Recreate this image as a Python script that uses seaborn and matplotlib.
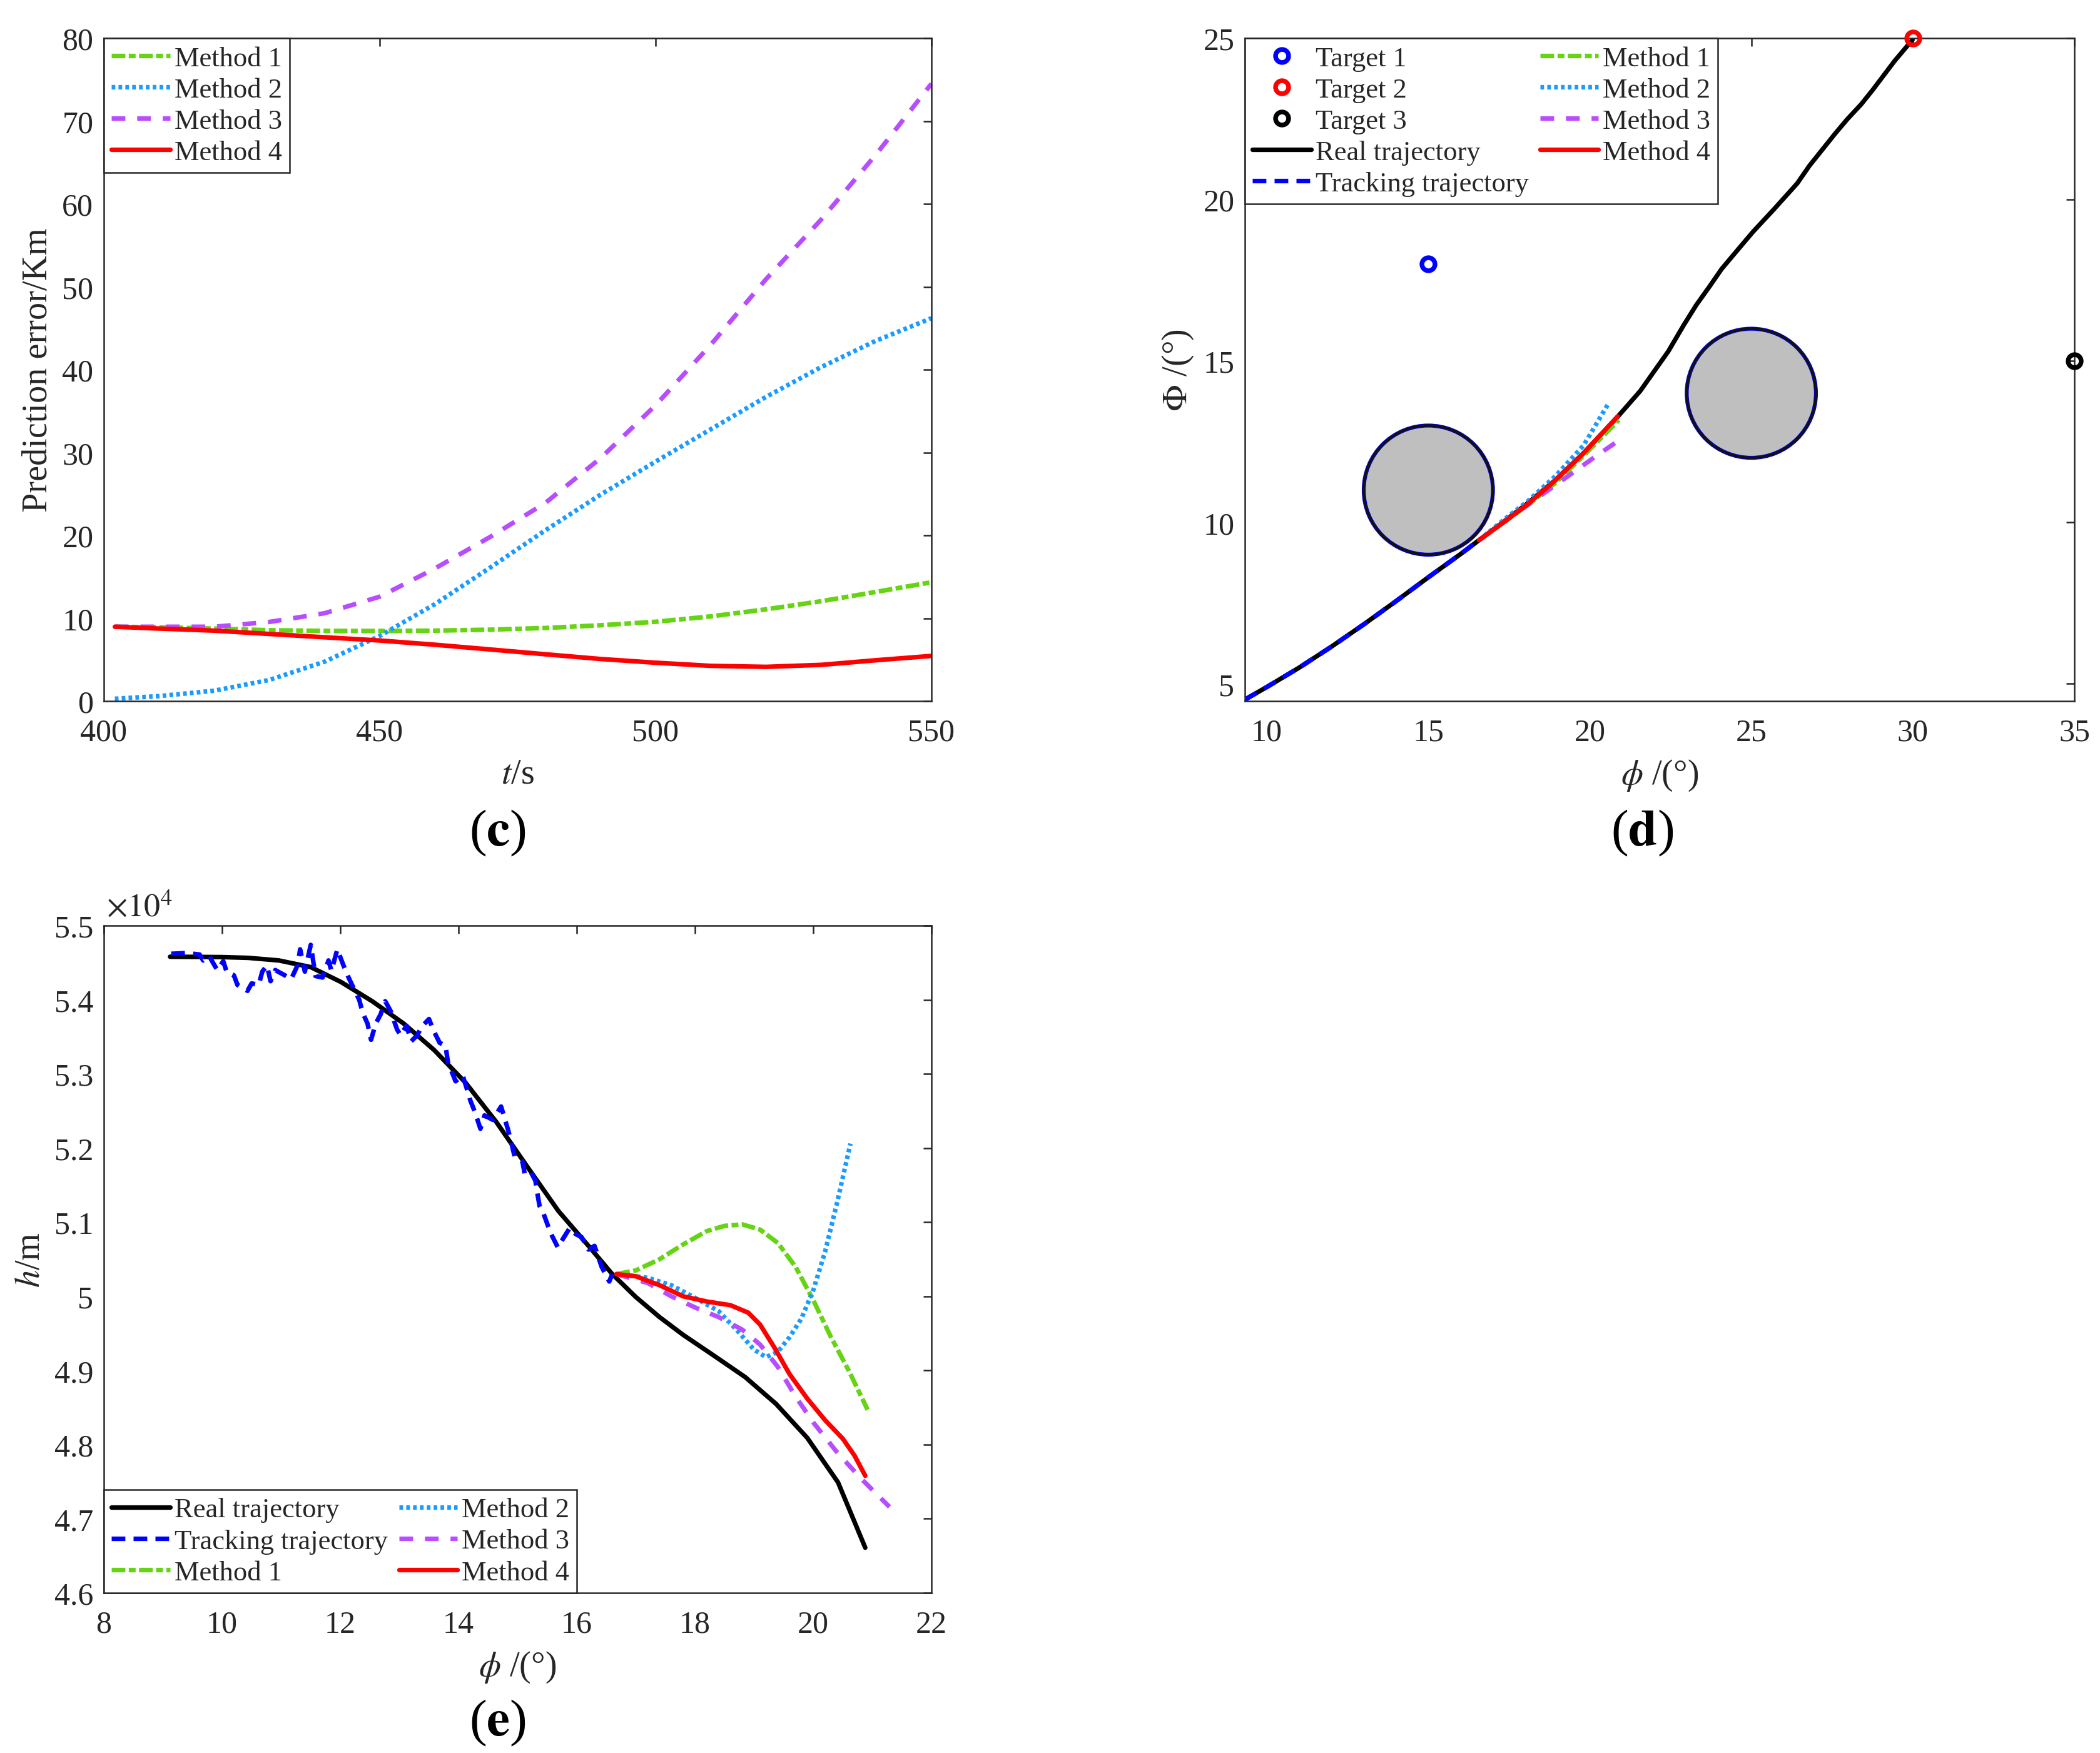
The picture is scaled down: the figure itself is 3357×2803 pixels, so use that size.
import matplotlib
matplotlib.use("Agg")
import matplotlib.pyplot as plt
from matplotlib.patches import Circle
from matplotlib.ticker import FuncFormatter
import numpy as np
import seaborn as sns

# ---------------- data ----------------
# (c) prediction error vs time
t_c = [402, 410, 420, 430, 440, 450, 460, 470, 480, 490, 500, 510, 520, 530, 540, 550]
err_m1 = [8.97, 8.90, 8.75, 8.55, 8.47, 8.46, 8.50, 8.62, 8.82, 9.15, 9.57, 10.22, 11.07, 12.05, 13.18, 14.34]
err_m2 = [0.28, 0.60, 1.25, 2.55, 4.75, 7.86, 11.7, 16.1, 20.6, 24.9, 28.9, 32.8, 36.7, 40.3, 43.5, 46.2]
err_m3 = [8.97, 8.97, 8.97, 9.55, 10.6, 12.6, 16.0, 19.8, 23.9, 29.3, 35.7, 43.0, 50.9, 58.1, 66.0, 74.5]
err_m4 = [8.97, 8.75, 8.50, 8.10, 7.70, 7.31, 6.80, 6.23, 5.65, 5.08, 4.63, 4.25, 4.13, 4.37, 4.93, 5.45]

# (d) ground track, phi vs Phi
real_d_x = [9.32, 10, 11, 12, 13, 14, 15, 16, 16.57, 17.2, 18.06, 18.93, 19.81, 20.86, 21.56, 22.43, 22.9,
            23.3, 23.7, 24.08, 24.5, 25.05, 25.7, 26.42, 26.8, 27.2, 27.6, 27.98, 28.4, 28.76, 29.1, 29.44, 29.99]
real_d_y = [4.51, 4.90, 5.50, 6.15, 6.84, 7.56, 8.30, 9.02, 9.45, 9.92, 10.58, 11.31, 12.15, 13.27, 14.07, 15.30,
            16.10, 16.74, 17.30, 17.85, 18.35, 19.00, 19.70, 20.50, 21.05, 21.55, 22.05, 22.50, 22.95, 23.40,
            23.85, 24.30, 24.95]
track_d_x = [9.32, 10, 11, 12, 13, 14, 15, 16, 16.57]
track_d_y = [4.51, 4.90, 5.50, 6.15, 6.84, 7.56, 8.30, 9.02, 9.45]
m1_d_x = [16.57, 17.2, 18.06, 18.93, 19.81, 20.9]
m1_d_y = [9.45, 9.90, 10.52, 11.22, 12.07, 13.17]
m2_d_x = [16.57, 17.36, 18.06, 18.93, 19.81, 20.55]
m2_d_y = [9.45, 10.10, 10.64, 11.43, 12.39, 13.64]
m3_d_x = [16.57, 17.36, 18.06, 18.76, 19.46, 20.16, 20.94]
m3_d_y = [9.45, 10.03, 10.53, 11.03, 11.53, 12.03, 12.57]
m4_d_x = [16.57, 17.19, 18.06, 18.93, 19.81, 20.86]
m4_d_y = [9.45, 9.90, 10.55, 11.30, 12.15, 13.28]
target_x = [15, 30, 35]
target_y = [18, 25, 15]
target_names = ["Target 1", "Target 2", "Target 3"]
obstacle_x = [15, 25]
obstacle_y = [11, 14]
obstacle_r = [2, 2]

# (e) altitude vs phi (m)
real_e_x = [9.12, 10.0, 10.44, 10.96, 11.5, 12.01, 12.54, 13.07, 13.59, 14.12, 14.64, 15.17, 15.69, 16.22, 16.6,
            17.0, 17.4, 17.8, 18.32, 18.85, 19.37, 19.9, 20.42, 20.88]
real_e_y = [54580, 54575, 54565, 54530, 54440, 54240, 53980, 53680, 53320, 52880, 52350, 51740, 51150, 50660, 50300,
            49990, 49720, 49480, 49200, 48910, 48550, 48090, 47490, 46610]
track_e_x = [9.14, 9.40, 9.62, 9.68, 9.78, 9.86, 9.92, 10.02, 10.08, 10.20, 10.26, 10.43, 10.50, 10.62, 10.68, 10.76,
             10.82, 10.90, 11.06, 11.17, 11.28, 11.32, 11.40, 11.50, 11.58, 11.70, 11.80, 11.85, 11.95, 12.05, 12.14,
             12.24, 12.32, 12.38, 12.46, 12.52, 12.60, 12.68, 12.76, 12.85, 12.96, 13.02, 13.12, 13.20, 13.30, 13.38,
             13.50, 13.58, 13.68, 13.78, 13.82, 13.90, 13.95, 14.07, 14.14, 14.20, 14.28, 14.37, 14.44, 14.58, 14.72,
             14.84, 14.90, 14.95, 15.08, 15.12, 15.22, 15.30, 15.34, 15.37, 15.44, 15.50, 15.56, 15.68, 15.77, 15.88,
             15.98, 16.08, 16.20, 16.30, 16.42, 16.55, 16.60]
track_e_y = [54620, 54630, 54610, 54530, 54590, 54480, 54400, 54520, 54370, 54330, 54200, 54120, 54220, 54200, 54380,
             54460, 54250, 54400, 54330, 54280, 54470, 54680, 54380, 54740, 54320, 54300, 54530, 54390, 54680, 54470,
             54300, 54130, 54000, 53820, 53680, 53460, 53680, 53800, 53980, 53850, 53600, 53520, 53650, 53440, 53520,
             53640, 53740, 53580, 53420, 53380, 53160, 53000, 52900, 52980, 52800, 52640, 52480, 52260, 52440, 52380,
             52560, 52240, 52050, 51880, 51820, 51650, 51680, 51560, 51360, 51220, 51110, 50980, 50850, 50660, 50780,
             50920, 50840, 50800, 50630, 50680, 50400, 50200, 50300]
m1_e_x = [16.67, 17.0, 17.4, 17.8, 18.2, 18.5, 18.8, 19.1, 19.4, 19.7, 20.0, 20.3, 20.6, 20.92]
m1_e_y = [50300, 50350, 50500, 50700, 50880, 50950, 50970, 50900, 50720, 50400, 49950, 49450, 49000, 48470]
m2_e_x = [16.67, 17.2, 17.6, 18.0, 18.4, 18.7, 19.0, 19.2, 19.4, 19.6, 19.8, 20.0, 20.2, 20.4, 20.63]
m2_e_y = [50300, 50250, 50150, 49980, 49800, 49550, 49280, 49180, 49250, 49450, 49700, 50080, 50600, 51250, 52060]
m3_e_x = [16.67, 17.2, 17.6, 18.0, 18.4, 18.8, 19.1, 19.4, 19.7, 20.0, 20.4, 20.8, 21.29]
m3_e_y = [50300, 50180, 50000, 49850, 49720, 49550, 49350, 49050, 48650, 48300, 47900, 47550, 47160]
m4_e_x = [16.67, 17.0, 17.4, 17.8, 18.2, 18.6, 18.9, 19.1, 19.35, 19.6, 19.9, 20.2, 20.5, 20.7, 20.88]
m4_e_y = [50300, 50270, 50150, 50000, 49930, 49880, 49780, 49620, 49300, 48950, 48620, 48330, 48080, 47850, 47580]

# ---------------- style ----------------
sns.set_theme(style="white")
plt.rcParams["font.family"] = ["Liberation Serif", "DejaVu Serif"]
plt.rcParams["mathtext.fontset"] = "stix"
plt.rcParams["axes.edgecolor"] = "#262626"
plt.rcParams["axes.linewidth"] = 0.6
plt.rcParams["text.color"] = "#262626"
plt.rcParams["axes.labelcolor"] = "#262626"
plt.rcParams["xtick.color"] = "#262626"
plt.rcParams["ytick.color"] = "#262626"

GREEN = "#66d414"
LBLUE = "#1a9cff"
PURPLE = "#b84dff"
RED = "#ff0000"
LW = 1.75
LS_M1 = (0, (3.0, 0.75, 1.5, 0.75))
LS_M2 = (0, (0.8, 0.7))
LS_M3 = (0, (3.0, 2.6))
LS_TR = (0, (3.0, 1.8))
FS = 12
LAB_FS = 13.5
LEG_FS = 10.7

fig = plt.figure(figsize=(3357 / 300, 2804 / 300), dpi=300)
ax_c = fig.add_axes([166 / 3357, 1 - 1122 / 2804, 1323 / 3357, 1060 / 2804])
ax_d = fig.add_axes([1990 / 3357, 1 - 1122 / 2804, 1326 / 3357, 1060 / 2804])
ax_e = fig.add_axes([166 / 3357, 1 - 2548 / 2804, 1323 / 3357, 1067 / 2804])


def line(ax, x, y, color, ls, label):
    sns.lineplot(x=x, y=y, ax=ax, color=color, lw=LW, linestyle=ls, label=label,
                 sort=False, estimator=None)
    return ax.lines[-1]


def style_axes(ax):
    ax.tick_params(direction="in", top=True, right=True, length=3.2, width=0.6,
                   labelsize=FS)
    ax.tick_params(axis="x", pad=6.5)
    ax.tick_params(axis="y", pad=4)
    for s in ax.spines.values():
        s.set_visible(True)
        s.set_linewidth(0.6)


def make_legend(ax, handles, loc, ncol=1):
    leg = ax.legend(handles=handles, labels=[h.get_label() for h in handles], loc=loc,
                    ncol=ncol, fontsize=LEG_FS, borderaxespad=0, handlelength=2.1,
                    handletextpad=0.15, labelspacing=0.22, borderpad=0.28,
                    columnspacing=0.4, frameon=True, fancybox=False, framealpha=1,
                    edgecolor="#262626")
    leg.get_frame().set_linewidth(0.6)
    return leg


# ---------------- (c) ----------------
h1 = line(ax_c, t_c, err_m1, GREEN, LS_M1, "Method 1")
h2 = line(ax_c, t_c, err_m2, LBLUE, LS_M2, "Method 2")
h3 = line(ax_c, t_c, err_m3, PURPLE, LS_M3, "Method 3")
h4 = line(ax_c, t_c, err_m4, RED, "-", "Method 4")
ax_c.set_xlim(400, 550)
ax_c.set_ylim(0, 80)
ax_c.set_xticks([400, 450, 500, 550])
ax_c.set_yticks(np.arange(0, 81, 10))
style_axes(ax_c)
ax_c.set_xlabel("$t$/s", fontsize=LAB_FS, labelpad=4)
ax_c.set_ylabel("Prediction error/Km", fontsize=LAB_FS, labelpad=3)
make_legend(ax_c, [h1, h2, h3, h4], "upper left")

# ---------------- (d) ----------------
for cx, cy, r in zip(obstacle_x, obstacle_y, obstacle_r):
    ax_d.add_patch(Circle((cx, cy), r, facecolor="#bfbfbf", edgecolor="#0000ee", lw=1.5, zorder=1))
    ax_d.add_patch(Circle((cx, cy), r, facecolor="none", edgecolor="#111111", lw=1.0, zorder=1.1))
tgt_handles = []
for tx, ty, name, c in zip(target_x, target_y, target_names, ["#0000ff", "#ff0000", "#000000"]):
    th, = ax_d.plot([tx], [ty], ls="none", marker="o", ms=5, mfc="none", mec=c, mew=1.8,
                    label=name, clip_on=False, zorder=5)
    tgt_handles.append(th)
hr = line(ax_d, real_d_x, real_d_y, "black", "-", "Real trajectory")
ht = line(ax_d, track_d_x, track_d_y, "#0000ff", LS_TR, "Tracking trajectory")
d1 = line(ax_d, m1_d_x, m1_d_y, GREEN, LS_M1, "Method 1")
d2 = line(ax_d, m2_d_x, m2_d_y, LBLUE, LS_M2, "Method 2")
d3 = line(ax_d, m3_d_x, m3_d_y, PURPLE, LS_M3, "Method 3")
d4 = line(ax_d, m4_d_x, m4_d_y, RED, "-", "Method 4")
ax_d.set_xlim(9.32, 35)
ax_d.set_ylim(4.465, 25)
ax_d.set_xticks(np.arange(10, 36, 5))
ax_d.set_yticks(np.arange(5, 26, 5))
style_axes(ax_d)
ax_d.set_xlabel(r"$\phi$ /(°)", fontsize=LAB_FS, labelpad=4)
ax_d.set_ylabel(r"$\Phi$ /(°)", fontsize=LAB_FS, labelpad=3)
make_legend(ax_d, tgt_handles + [hr, ht, d1, d2, d3, d4], "upper left", ncol=2)

# ---------------- (e) ----------------
er = line(ax_e, real_e_x, real_e_y, "black", "-", "Real trajectory")
et = line(ax_e, track_e_x, track_e_y, "#0000ff", LS_TR, "Tracking trajectory")
e1 = line(ax_e, m1_e_x, m1_e_y, GREEN, LS_M1, "Method 1")
e2 = line(ax_e, m2_e_x, m2_e_y, LBLUE, LS_M2, "Method 2")
e3 = line(ax_e, m3_e_x, m3_e_y, PURPLE, LS_M3, "Method 3")
e4 = line(ax_e, m4_e_x, m4_e_y, RED, "-", "Method 4")
ax_e.set_xlim(8, 22)
ax_e.set_ylim(46000, 55000)
ax_e.set_xticks(np.arange(8, 23, 2))
ax_e.set_yticks(np.arange(46000, 55001, 1000))
ax_e.yaxis.set_major_formatter(FuncFormatter(lambda v, p: f"{v / 1e4:g}"))
style_axes(ax_e)
ax_e.set_xlabel(r"$\phi$ /(°)", fontsize=LAB_FS, labelpad=4)
ax_e.set_ylabel("$h$/m", fontsize=LAB_FS, labelpad=3)
ax_e.text(0.003, 1.004, r"$\times10^{4}$", transform=ax_e.transAxes, ha="left", va="bottom",
          fontsize=12.5)
make_legend(ax_e, [er, et, e1, e2, e3, e4], "lower left", ncol=2)

# panel letters
for px, py, letter in [(795, 1332, "c"), (2625, 1332, "d"), (795, 2755, "e")]:
    fig.text(px / 3357, 1 - py / 2804, "(" + r"$\mathbf{" + letter + "}$" + ")",
             ha="center", va="center", fontsize=20, color="black")

fig.savefig("out.png", dpi=300)
